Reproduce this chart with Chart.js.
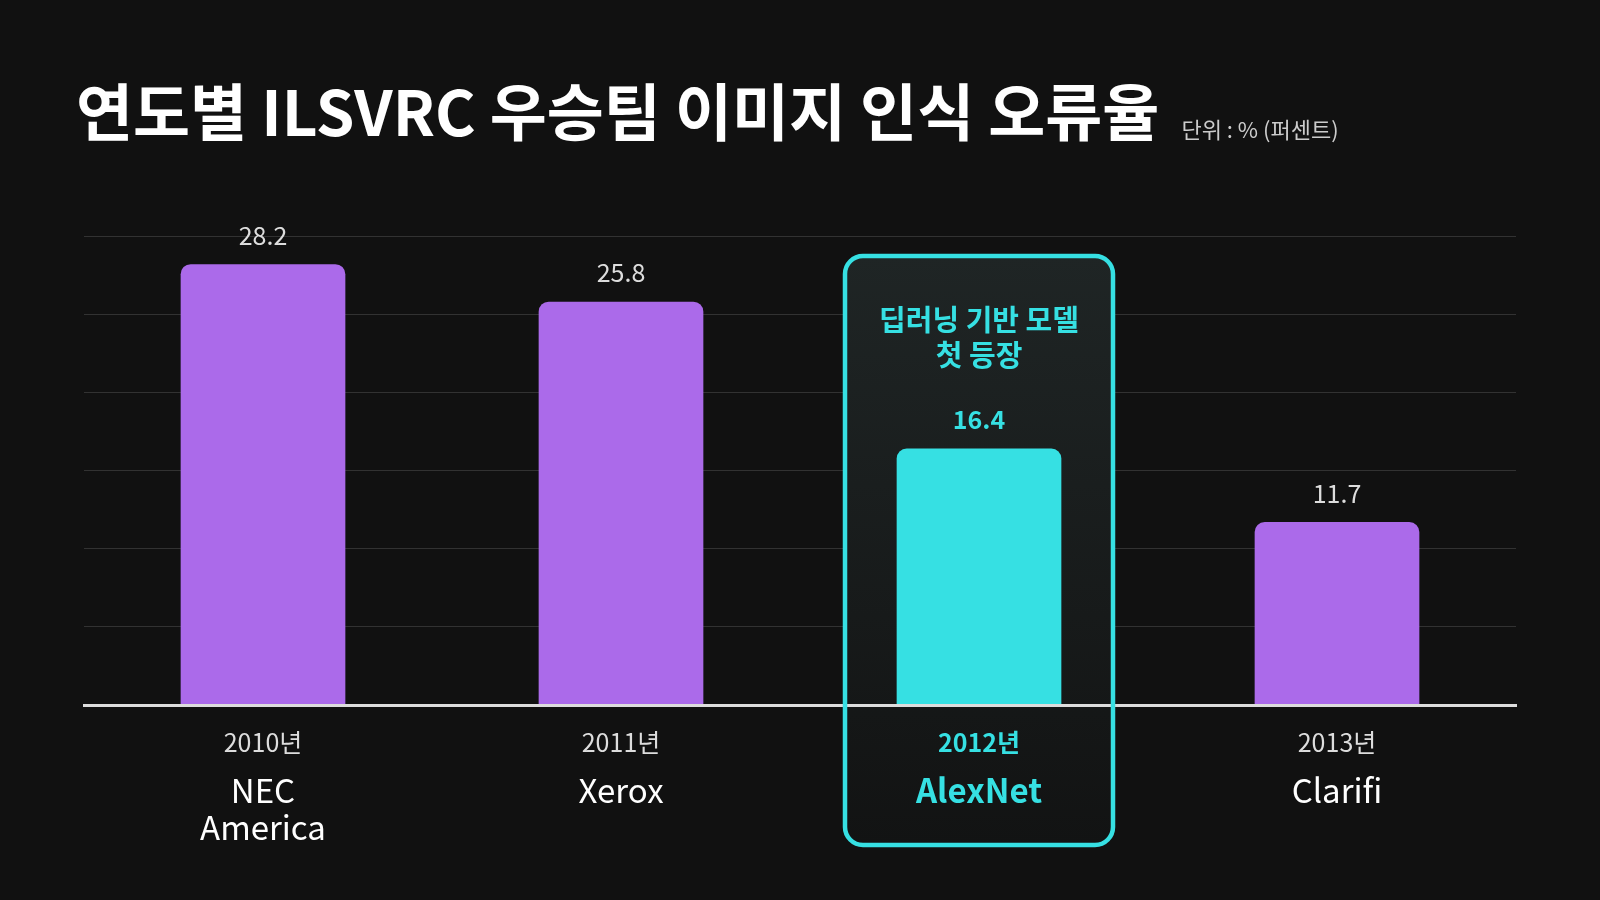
<!DOCTYPE html>
<html>
<head>
<meta charset="utf-8">
<script src="https://cdn.jsdelivr.net/npm/chart.js@4.4.1/dist/chart.umd.min.js"></script>
<style>
  html, body { margin: 0; padding: 0; background: #111111; }
  #wrap { width: 1600px; height: 900px; position: relative; }
</style>
</head>
<body>
<div id="wrap"><canvas id="errorRate"></canvas></div>
<script>
// 데이터
const years = ['2010년', '2011년', '2012년', '2013년'];
const teams = [['NEC', 'America'], ['Xerox'], ['AlexNet'], ['Clarifi']];
const errorRates = [28.2, 25.8, 16.4, 11.7];
const highlightIndex = 2;
const highlightNote = ['딥러닝 기반 모델', '첫 등장'];
const yMax = 30;
const yStep = 5;

const titleText = '연도별 ILSVRC 우승팀 이미지 인식 오류율';
const unitText = '단위 : % (퍼센트)';

const FONT = '"Noto Sans CJK KR", "Noto Sans", sans-serif';
const PURPLE = '#ab6aea';
const CYAN = '#36e0e3';

const barColors = errorRates.map((v, i) => i === highlightIndex ? CYAN : PURPLE);

// 강조 박스 영역
function boxRect(chart) {
  const x = chart.scales.x.getPixelForValue(highlightIndex);
  return { x, left: x - 134, right: x + 134, top: 256, bottom: 845 };
}

// 강조 박스 (배경 + 테두리)
const highlightBox = {
  id: 'highlightBox',
  beforeDatasetsDraw(chart) {
    const ctx = chart.ctx;
    const b = boxRect(chart);
    const grad = ctx.createLinearGradient(0, b.top, 0, b.bottom);
    grad.addColorStop(0, '#1f2525');
    grad.addColorStop(1, '#121313');
    ctx.save();
    ctx.beginPath();
    ctx.roundRect(b.left, b.top, b.right - b.left, b.bottom - b.top, 18);
    ctx.fillStyle = grad;
    ctx.fill();
    ctx.restore();
  },
  afterDraw(chart) {
    const ctx = chart.ctx;
    const b = boxRect(chart);
    ctx.save();
    ctx.beginPath();
    ctx.roundRect(b.left, b.top, b.right - b.left, b.bottom - b.top, 18);
    ctx.lineWidth = 4.5;
    ctx.strokeStyle = CYAN;
    ctx.stroke();

    // 박스 안 설명
    ctx.fillStyle = CYAN;
    ctx.font = 'bold 29px ' + FONT;
    ctx.textAlign = 'center';
    ctx.textBaseline = 'middle';
    ctx.fillText(highlightNote[0], b.x, 320);
    ctx.fillText(highlightNote[1], b.x, 355);
    ctx.restore();
  }
};

// 값 라벨 + x축 라벨 + 제목
const labelsPlugin = {
  id: 'labelsPlugin',
  afterDatasetsDraw(chart) {
    const ctx = chart.ctx;
    const meta = chart.getDatasetMeta(0);
    ctx.save();
    ctx.textAlign = 'center';
    ctx.textBaseline = 'middle';
    meta.data.forEach((bar, i) => {
      const hl = i === highlightIndex;
      ctx.fillStyle = hl ? CYAN : '#dddddd';
      ctx.font = (hl ? 'bold ' : '') + '25px ' + FONT;
      ctx.fillText(errorRates[i].toFixed(1), bar.x, bar.y - 29);
    });
    ctx.restore();
  },
  afterDraw(chart) {
    const ctx = chart.ctx;
    const xScale = chart.scales.x;
    ctx.save();
    ctx.textAlign = 'center';
    ctx.textBaseline = 'middle';
    years.forEach((yr, i) => {
      const x = xScale.getPixelForValue(i);
      const hl = i === highlightIndex;
      ctx.fillStyle = hl ? CYAN : '#dddddd';
      ctx.font = (hl ? 'bold ' : '') + '25px ' + FONT;
      ctx.fillText(yr, x, 742);
      ctx.fillStyle = hl ? CYAN : '#ffffff';
      ctx.font = (hl ? 'bold ' : '') + '33px ' + FONT;
      teams[i].forEach((line, j) => ctx.fillText(line, x, 790 + j * 37));
    });

    // 제목
    ctx.textAlign = 'left';
    ctx.fillStyle = '#ffffff';
    ctx.font = 'bold 62px ' + FONT;
    ctx.fillText(titleText, 76, 112);
    const w = ctx.measureText(titleText).width;
    ctx.fillStyle = '#cccccc';
    ctx.font = '22px ' + FONT;
    ctx.fillText(unitText, 76 + w + 22, 130);
    ctx.restore();
  }
};

const canvas = document.getElementById('errorRate');

new Chart(canvas, {
  type: 'bar',
  data: {
    labels: years,
    datasets: [{
      data: errorRates,
      backgroundColor: barColors,
      borderRadius: { topLeft: 10, topRight: 10 },
      borderSkipped: 'bottom',
      barPercentage: 0.46,
      categoryPercentage: 1.0
    }]
  },
  options: {
    responsive: true,
    maintainAspectRatio: false,
    animation: false,
    layout: {
      padding: { left: 84, right: 84, top: 236, bottom: 195 }
    },
    plugins: {
      legend: { display: false },
      tooltip: { enabled: false }
    },
    scales: {
      x: {
        ticks: { display: false },
        grid: { display: false, drawTicks: false },
        border: { display: true, color: '#dddddd', width: 3, z: 2 }
      },
      y: {
        min: 0,
        max: yMax,
        z: 1,
        ticks: { display: false, stepSize: yStep },
        grid: {
          color: (c) => c.tick.value === 0 ? 'rgba(0,0,0,0)' : 'rgba(255,255,255,0.14)',
          lineWidth: 1,
          drawTicks: false
        },
        border: { display: false }
      }
    }
  },
  plugins: [highlightBox, labelsPlugin]
});
</script>
</body>
</html>
